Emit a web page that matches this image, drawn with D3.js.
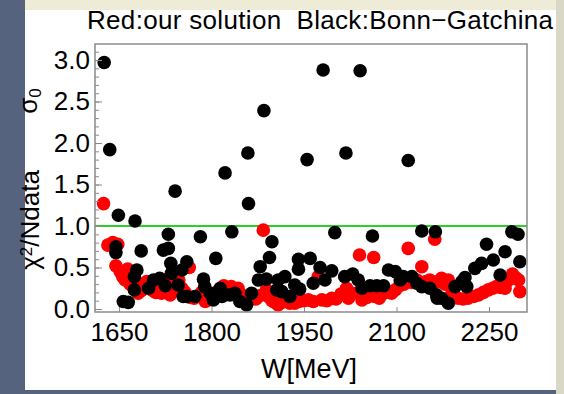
<!DOCTYPE html>
<html>
<head>
<meta charset="utf-8">
<script src="https://cdn.jsdelivr.net/npm/d3@7"></script>
<style>
  body { margin: 0; background: #5a6886; }
  svg { display: block; }
  text { font-family: "Liberation Sans", Arial, sans-serif; fill: #000; }
  .axis line { stroke: #8a8a8a; }
</style>
</head>
<body>
<svg id="chart"></svg>
<script>
// [W (MeV), chi^2/Ndata]
const redPoints = [
  [1625, 1.27], [1632, 0.77], [1640, 0.80], [1645, 0.52], [1648, 0.78], [1652, 0.45],
  [1656, 0.39], [1660, 0.35], [1664, 0.48], [1668, 0.30], [1672, 0.28], [1676, 0.25],
  [1681, 0.19], [1686, 0.22], [1690, 0.30], [1695, 0.33], [1700, 0.28], [1705, 0.22],
  [1710, 0.20], [1715, 0.25], [1719, 0.19], [1724, 0.30], [1728, 0.35], [1733, 0.17],
  [1738, 0.22], [1742, 0.31], [1747, 0.35], [1752, 0.25], [1757, 0.20], [1764, 0.50],
  [1766, 0.14], [1772, 0.13], [1778, 0.16], [1784, 0.20], [1790, 0.09], [1796, 0.12],
  [1802, 0.15], [1808, 0.20], [1814, 0.22], [1820, 0.28], [1826, 0.24], [1832, 0.27],
  [1838, 0.22], [1843, 0.25], [1849, 0.17], [1855, 0.12], [1860, 0.10], [1866, 0.14],
  [1872, 0.12], [1878, 0.16], [1884, 0.95], [1889, 0.23], [1892, 0.15], [1898, 0.10],
  [1903, 0.08], [1908, 0.05], [1914, 0.08], [1920, 0.10], [1927, 0.07], [1935, 0.07],
  [1942, 0.09], [1950, 0.10], [1957, 0.11], [1965, 0.09], [1973, 0.39], [1979, 0.11],
  [1987, 0.10], [1995, 0.13], [2002, 0.12], [2010, 0.18], [2019, 0.25], [2022, 0.13],
  [2028, 0.19], [2040, 0.65], [2044, 0.11], [2052, 0.14], [2063, 0.62], [2065, 0.15],
  [2072, 0.13], [2079, 0.19], [2086, 0.21], [2092, 0.19], [2098, 0.23], [2105, 0.28],
  [2112, 0.30], [2119, 0.73], [2125, 0.32], [2133, 0.35], [2141, 0.51], [2148, 0.33],
  [2154, 0.35], [2162, 0.84], [2168, 0.33], [2173, 0.37], [2179, 0.30], [2184, 0.35],
  [2189, 0.17], [2195, 0.14], [2200, 0.13], [2208, 0.12], [2216, 0.13], [2225, 0.15],
  [2233, 0.17], [2241, 0.20], [2249, 0.23], [2256, 0.25], [2262, 0.27], [2269, 0.26],
  [2276, 0.25], [2282, 0.35], [2288, 0.42], [2293, 0.38], [2298, 0.35], [2300, 0.21]
];

const blackPoints = [
  [1626, 2.97], [1635, 1.92], [1649, 1.13], [1676, 1.06], [1645, 0.75], [1645, 0.68],
  [1657, 0.09], [1665, 0.08], [1675, 0.39], [1675, 0.23], [1679, 0.47], [1686, 0.70],
  [1698, 0.25], [1706, 0.35], [1716, 0.37], [1722, 0.71], [1725, 0.28], [1730, 0.90],
  [1730, 0.73], [1734, 0.55], [1735, 0.43], [1741, 1.42], [1746, 0.29], [1752, 0.47],
  [1754, 0.15], [1760, 0.57], [1760, 0.15], [1773, 0.15], [1782, 0.87], [1787, 0.36],
  [1789, 0.27], [1798, 0.19], [1803, 0.11], [1807, 0.61], [1814, 0.25], [1817, 0.15],
  [1822, 1.64], [1830, 0.17], [1833, 0.93], [1838, 0.19], [1846, 0.09], [1857, 0.05],
  [1859, 1.88], [1860, 1.27], [1865, 0.19], [1876, 0.35], [1879, 0.51], [1885, 2.39],
  [1889, 0.36], [1894, 0.62], [1898, 0.81], [1906, 0.23], [1908, 0.35], [1914, 0.21],
  [1919, 0.39], [1927, 0.15], [1935, 0.29], [1941, 0.60], [1941, 0.48], [1943, 0.24],
  [1955, 1.80], [1960, 0.61], [1965, 0.31], [1976, 0.50], [1981, 2.88], [1984, 0.35],
  [1995, 0.46], [2000, 0.92], [2016, 0.39], [2018, 1.88], [2029, 0.42], [2038, 0.35],
  [2041, 2.87], [2044, 0.25], [2057, 0.28], [2061, 0.88], [2068, 0.28], [2079, 0.28],
  [2087, 0.47], [2098, 0.45], [2106, 0.35], [2111, 0.39], [2119, 1.79], [2125, 0.39],
  [2133, 0.31], [2141, 0.94], [2141, 0.27], [2154, 0.25], [2163, 0.93], [2166, 0.13],
  [2165, 0.17], [2173, 0.13], [2184, 0.07], [2195, 0.27], [2206, 0.33], [2211, 0.38],
  [2214, 0.27], [2227, 0.49], [2238, 0.55], [2246, 0.78], [2257, 0.59], [2268, 0.41],
  [2276, 0.69], [2287, 0.93], [2297, 0.90], [2300, 0.57]
];

const xTicks = [1650, 1800, 1950, 2100, 2250];
const yTicks = [0.0, 0.5, 1.0, 1.5, 2.0, 2.5, 3.0];
const yMinorTicks = d3.range(0, 32).map(i => i / 10);
const refLine = 1.0;

class ScatterChart {

  constructor(_config) {
    this.config = {
      parentElement: _config.parentElement,
      containerWidth: _config.containerWidth || 564,
      containerHeight: _config.containerHeight || 394,
      margin: _config.margin || { top: 44, right: 37, bottom: 82, left: 95 }
    };
    this.initVis();
  }

  initVis() {
    let vis = this;

    vis.width = vis.config.containerWidth - vis.config.margin.left - vis.config.margin.right;
    vis.height = vis.config.containerHeight - vis.config.margin.top - vis.config.margin.bottom;

    vis.svg = d3.select(vis.config.parentElement)
      .attr('width', vis.config.containerWidth)
      .attr('height', vis.config.containerHeight);

    // screenshot surroundings: top strip, right strip, white panel
    vis.svg.append('rect').attr('x', 0).attr('y', 0)
      .attr('width', vis.config.containerWidth).attr('height', vis.config.containerHeight)
      .attr('fill', '#56637f');
    vis.svg.append('rect').attr('x', 25).attr('y', 0)
      .attr('width', vis.config.containerWidth - 25).attr('height', 11)
      .attr('fill', '#eeecd6');
    vis.svg.append('rect').attr('x', 556).attr('y', 0)
      .attr('width', 8).attr('height', vis.config.containerHeight)
      .attr('fill', '#d9d7c6');
    vis.svg.append('rect').attr('x', 25).attr('y', 10)
      .attr('width', 531).attr('height', 380)
      .attr('fill', '#ffffff');

    vis.xScale = d3.scaleLinear()
      .domain([1611.1, 2311.6])
      .range([0, vis.width]);

    vis.yScale = d3.scaleLinear()
      .domain([-0.036, 3.193])
      .range([vis.height, 0]);

    vis.chart = vis.svg.append('g')
      .attr('transform', `translate(${vis.config.margin.left},${vis.config.margin.top})`);

    vis.xAxis = d3.axisBottom(vis.xScale)
      .tickValues(xTicks)
      .tickFormat(d3.format('d'))
      .tickSize(-5)
      .tickPadding(11);

    vis.yAxis = d3.axisLeft(vis.yScale)
      .tickValues(yTicks)
      .tickFormat(d3.format('.1f'))
      .tickSize(-7)
      .tickPadding(5);

    vis.yMinor = d3.axisLeft(vis.yScale)
      .tickValues(yMinorTicks)
      .tickFormat('')
      .tickSize(-4);
  }

  updateVis() {
    let vis = this;
    vis.xValue = d => d[0];
    vis.yValue = d => d[1];
    vis.renderVis();
  }

  renderVis() {
    let vis = this;

    // reference line chi^2/Ndata = 1
    vis.chart.append('line')
      .attr('x1', 0).attr('x2', vis.width)
      .attr('y1', vis.yScale(refLine)).attr('y2', vis.yScale(refLine))
      .attr('stroke', '#2ccf2c')
      .attr('stroke-width', 2);

    vis.chart.selectAll('.red-dot')
      .data(redPoints)
      .join('circle')
      .attr('class', 'red-dot')
      .attr('cx', d => vis.xScale(vis.xValue(d)))
      .attr('cy', d => vis.yScale(vis.yValue(d)))
      .attr('r', 6.8)
      .attr('fill', '#ff0000');

    vis.chart.selectAll('.black-dot')
      .data(blackPoints)
      .join('circle')
      .attr('class', 'black-dot')
      .attr('cx', d => vis.xScale(vis.xValue(d)))
      .attr('cy', d => vis.yScale(vis.yValue(d)))
      .attr('r', 6.8)
      .attr('fill', '#000000');

    vis.chart.append('g')
      .attr('class', 'axis x-axis')
      .attr('transform', `translate(0,${vis.height})`)
      .call(vis.xAxis)
      .call(g => g.select('.domain').remove())
      .selectAll('text').attr('font-size', 26).attr('font-family', null);

    vis.chart.append('g')
      .attr('class', 'axis y-minor')
      .call(vis.yMinor)
      .call(g => g.select('.domain').remove());

    vis.chart.append('g')
      .attr('class', 'axis y-axis')
      .call(vis.yAxis)
      .call(g => g.select('.domain').remove())
      .selectAll('text').attr('font-size', 26).attr('font-family', null);

    // frame
    vis.chart.append('rect')
      .attr('width', vis.width).attr('height', vis.height)
      .attr('fill', 'none')
      .attr('stroke', '#8a8a8a')
      .attr('stroke-width', 1.5);

    // labels
    vis.svg.append('text')
      .attr('x', 87).attr('y', 29)
      .attr('font-size', 26)
      .attr('textLength', 466)
      .attr('lengthAdjust', 'spacing')
      .text('Red:our solution\u00a0 Black:Bonn\u2212Gatchina');

    vis.svg.append('text')
      .attr('x', vis.config.margin.left + vis.xScale(1950) + 5)
      .attr('y', 378)
      .attr('text-anchor', 'middle')
      .attr('font-size', 27)
      .text('W[MeV]');

    const yl = vis.svg.append('text')
      .attr('transform', 'translate(39,220) rotate(-90)')
      .attr('text-anchor', 'middle')
      .attr('font-size', 26);
    yl.append('tspan').text('\u03c7');
    yl.append('tspan').attr('baseline-shift', '40%').attr('font-size', 17).text('2');
    yl.append('tspan').text('/Ndata');

    const sl = vis.svg.append('text')
      .attr('transform', 'translate(37,101) rotate(-90)')
      .attr('text-anchor', 'middle')
      .attr('font-size', 26);
    sl.append('tspan').text('\u03c3');
    sl.append('tspan').attr('baseline-shift', '-25%').attr('font-size', 17).text('0');
  }
}

const chart = new ScatterChart({ parentElement: '#chart' });
chart.updateVis();
</script>
</body>
</html>
